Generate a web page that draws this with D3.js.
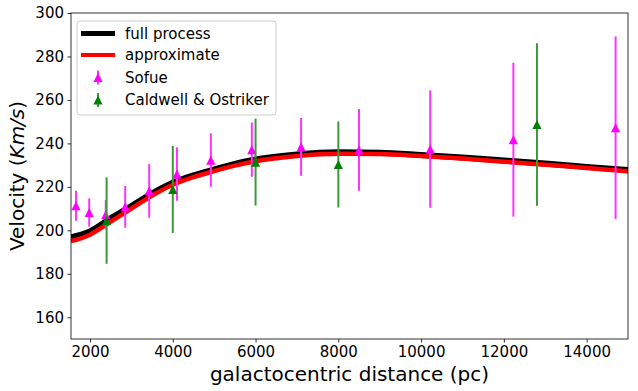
<!DOCTYPE html>
<html>
<head>
<meta charset="utf-8">
<script src="https://cdn.jsdelivr.net/npm/d3@7"></script>
<style>
body { margin: 0; background: #fff; }
text { font-family: "DejaVu Sans", sans-serif; }
</style>
</head>
<body>
<svg id="chart"></svg>
<script>
// curvas del modelo (muestras)
var radios = [1540, 2000, 2500, 3000, 3500, 4000, 4500, 5000, 5500, 6000, 7000, 8000, 9000, 10000, 11000, 12000, 13000, 14000, 15000];
var velFull = [196.8, 199.5, 205.5, 211.2, 217.0, 221.9, 225.3, 228.0, 230.6, 232.6, 234.9, 235.9, 235.7, 234.7, 233.5, 232.1, 230.7, 229.2, 227.7];
var velAprox = [195.0, 198.0, 204.0, 210.0, 216.0, 221.0, 224.5, 227.3, 229.8, 231.8, 234.2, 235.2, 235.1, 234.2, 233.0, 231.6, 230.2, 228.7, 227.2];

// datos observados
var sofueR = [1660, 1980, 2380, 2850, 3430, 4100, 4920, 5910, 7100, 8500, 10220, 12230, 14700];
var sofueV = [211.3, 208.2, 207.2, 210.8, 218.2, 225.9, 232.3, 237.1, 238.4, 237.0, 237.4, 241.7, 247.2];
var sofueErr = [6.9, 6.5, 6.7, 9.6, 12.4, 12.3, 12.3, 12.5, 13.3, 18.8, 27.0, 35.4, 42.0];

var caldR = [2400, 4000, 6000, 8000, 12800];
var caldV = [204.5, 218.8, 231.4, 230.3, 248.7];
var caldErr = [19.9, 20.0, 20.0, 19.8, 37.4];

var xTicks = [2000, 4000, 6000, 8000, 10000, 12000, 14000];
var yTicks = [160, 180, 200, 220, 240, 260, 280, 300];

var svgWidth = 638, svgHeight = 391;
var margin = {top: 13, right: 10, bottom: 52, left: 71};
var ancho = svgWidth - margin.left - margin.right;
var alto = svgHeight - margin.top - margin.bottom;

var svg = d3.select("#chart")
    .attr("width", svgWidth)
    .attr("height", svgHeight);

var g = svg.append("g")
    .attr("transform", "translate(" + margin.left + "," + margin.top + ")");

var xScale = d3.scaleLinear().domain([1540, 15000]).range([0, ancho]);
var yScale = d3.scaleLinear().domain([150, 300]).range([alto, 0]);

g.append("defs").append("clipPath").attr("id", "recorte")
    .append("rect").attr("width", ancho).attr("height", alto);

var plot = g.append("g").attr("clip-path", "url(#recorte)");

// lineas del modelo
var linea = function (vals) {
    return d3.line()
        .x(function (d, i) { return xScale(radios[i]); })
        .y(function (d) { return yScale(d); })
        .curve(d3.curveMonotoneX)(vals);
};

plot.append("path").attr("d", linea(velFull))
    .attr("fill", "none").attr("stroke", "black").attr("stroke-width", 6);
plot.append("path").attr("d", linea(velAprox))
    .attr("fill", "none").attr("stroke", "red").attr("stroke-width", 4.5);

// triangulo tipo matplotlib '^'
var triangulo = function (cx, cy, s) {
    return "M" + cx + "," + (cy - s) + "L" + (cx - s) + "," + (cy + s) + "L" + (cx + s) + "," + (cy + s) + "Z";
};

function dibujarSerie(rs, vs, errs, colorBarra, colorMarca) {
    var grupo = plot.append("g");
    grupo.selectAll("line").data(rs).enter().append("line")
        .attr("x1", function (d) { return xScale(d); })
        .attr("x2", function (d) { return xScale(d); })
        .attr("y1", function (d, i) { return yScale(vs[i] - errs[i]); })
        .attr("y2", function (d, i) { return yScale(vs[i] + errs[i]); })
        .attr("stroke", colorBarra).attr("stroke-width", 2);
    grupo.selectAll("path").data(rs).enter().append("path")
        .attr("d", function (d, i) { return triangulo(xScale(d), yScale(vs[i]), 4.6); })
        .attr("fill", colorMarca);
}

dibujarSerie(sofueR, sofueV, sofueErr, "#ff33ff", "#ff00ff");
dibujarSerie(caldR, caldV, caldErr, "#3a9a3a", "#008000");

// ejes
var ejeX = g.append("g")
    .attr("transform", "translate(0," + alto + ")")
    .call(d3.axisBottom(xScale).tickValues(xTicks).tickSize(3.5).tickPadding(3.5).tickFormat(d3.format("d")));
var ejeY = g.append("g")
    .call(d3.axisLeft(yScale).tickValues(yTicks).tickSize(3.5).tickPadding(3.5).tickFormat(d3.format("d")));

[ejeX, ejeY].forEach(function (e) {
    e.select(".domain").remove();
    e.selectAll("line").attr("stroke", "black").attr("stroke-width", 0.8);
    e.selectAll("text").attr("font-size", 15).attr("fill", "black")
        .style("font-family", "'DejaVu Sans', sans-serif");
});

g.append("rect").attr("width", ancho).attr("height", alto)
    .attr("fill", "none").attr("stroke", "black").attr("stroke-width", 0.8);

// titulos de ejes
svg.append("text")
    .attr("x", margin.left + ancho / 2).attr("y", 381)
    .attr("text-anchor", "middle").attr("font-size", 20)
    .text("galactocentric distance (pc)");

var ty = svg.append("text")
    .attr("transform", "translate(24," + (margin.top + alto / 2) + ") rotate(-90)")
    .attr("text-anchor", "middle").attr("font-size", 20);
ty.append("tspan").text("Velocity (");
ty.append("tspan").attr("font-style", "italic").text("Km/s");
ty.append("tspan").text(")");

// leyenda
var leyenda = svg.append("g").attr("transform", "translate(77,21)");
leyenda.append("rect").attr("width", 199).attr("height", 94).attr("rx", 3)
    .attr("fill", "white").attr("fill-opacity", 0.8)
    .attr("stroke", "#cccccc").attr("stroke-width", 1);

var etiquetas = ["full process", "approximate", "Sofue", "Caldwell & Ostriker"];
var filasY = [12.5, 34, 56.5, 79];

leyenda.append("line").attr("x1", 4).attr("x2", 38).attr("y1", filasY[0]).attr("y2", filasY[0])
    .attr("stroke", "black").attr("stroke-width", 5);
leyenda.append("line").attr("x1", 4).attr("x2", 38).attr("y1", filasY[1]).attr("y2", filasY[1])
    .attr("stroke", "red").attr("stroke-width", 4);

[["#ff33ff", "#ff00ff"], ["#3a9a3a", "#008000"]].forEach(function (c, k) {
    var yy = filasY[k + 2];
    leyenda.append("line").attr("x1", 21).attr("x2", 21).attr("y1", yy - 7).attr("y2", yy + 7)
        .attr("stroke", c[0]).attr("stroke-width", 2);
    leyenda.append("path").attr("d", triangulo(21, yy, 4.6)).attr("fill", c[1]);
});

leyenda.selectAll("text.et").data(etiquetas).enter().append("text")
    .attr("class", "et")
    .attr("x", 48).attr("y", function (d, i) { return filasY[i]; })
    .attr("dy", "0.35em").attr("font-size", 15).attr("fill", "black")
    .text(function (d) { return d; });
</script>
</body>
</html>
